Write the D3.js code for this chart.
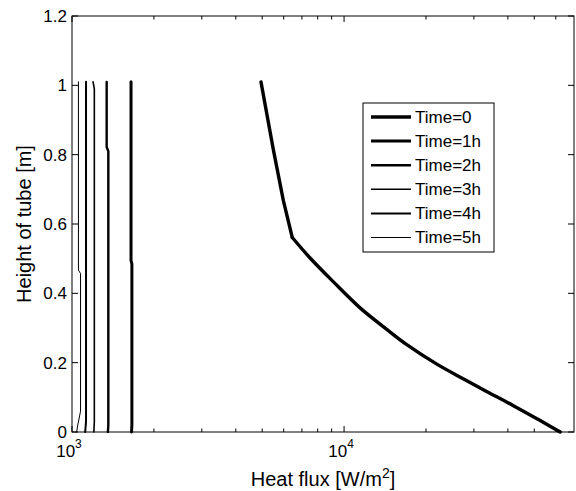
<!DOCTYPE html>
<html>
<head>
<meta charset="utf-8">
<script src="https://cdn.jsdelivr.net/npm/d3@7"></script>
<style>
  body { margin: 0; background: #fff; }
  text { font-family: Arial, "Liberation Sans", sans-serif; fill: #000; }
</style>
</head>
<body>
<svg id="drawing_region"></svg>
<script>
// heat flux profiles along the tube
var seriesNames = ['Time=0', 'Time=1h', 'Time=2h', 'Time=3h', 'Time=4h', 'Time=5h'];

var flux0   = [4950, 5500, 5980, 6450, 7500, 9140, 11450, 14350, 17000, 22000, 27500, 32500, 41900, 52600, 62300];
var height0 = [1.01, 0.813, 0.668, 0.561, 0.502, 0.433, 0.358, 0.296, 0.252, 0.195, 0.153, 0.122, 0.076, 0.033, 0];
var kink0 = 3; // index where the Time=0 profile bends sharply

var flux1   = [1648, 1648, 1660, 1660, 1655];
var height1 = [1.01, 0.495, 0.485, 0.02, 0];

var flux2   = [1341, 1341, 1360, 1360, 1355];
var height2 = [1.01, 0.822, 0.81, 0.02, 0];

var flux3   = [1195, 1208, 1208, 1203];
var height3 = [1.01, 0.99, 0.03, 0];

var flux4   = [1126, 1126, 1118];
var height4 = [1.01, 0.03, 0];

var flux5   = [1056, 1056, 1075, 1075, 1050, 1040];
var height5 = [1.01, 0.467, 0.457, 0.06, 0.02, 0];

var yTicks = [0, 0.2, 0.4, 0.6, 0.8, 1, 1.2];
var xMajor = [1000, 10000];
var xMinor = [2000, 3000, 4000, 5000, 6000, 7000, 8000, 9000, 20000, 30000, 40000, 50000, 60000];

var allFlux = [flux0, flux1, flux2, flux3, flux4, flux5];
var allHeight = [height0, height1, height2, height3, height4, height5];
var lineWidth = [3.4, 3, 2.4, 1.6, 2, 1];

var config = {
    parent: '#drawing_region',
    width: 576,
    height: 491,
    margin: {top: 16, right: 2, bottom: 59, left: 72}
};

var svg = d3.select(config.parent)
    .attr('width', config.width)
    .attr('height', config.height);

var inner_width = config.width - config.margin.left - config.margin.right;
var inner_height = config.height - config.margin.top - config.margin.bottom;

var chart = svg.append('g')
    .attr('transform', `translate(${config.margin.left}, ${config.margin.top})`);

var xscale = d3.scaleLog().domain([1000, 70000]).range([0, inner_width]);
var yscale = d3.scaleLinear().domain([0, 1.2]).range([inner_height, 0]);

// box
chart.append('rect')
    .attr('width', inner_width).attr('height', inner_height)
    .attr('fill', 'none').attr('stroke', '#000').attr('stroke-width', 1);

// ticks pointing inward, on all four sides (matlab style)
var tickG = chart.append('g').attr('stroke', '#000').attr('stroke-width', 1);
xMajor.forEach(v => {
    var x = xscale(v);
    tickG.append('line').attr('x1', x).attr('x2', x).attr('y1', inner_height).attr('y2', inner_height - 6);
    tickG.append('line').attr('x1', x).attr('x2', x).attr('y1', 0).attr('y2', 6);
});
xMinor.forEach(v => {
    var x = xscale(v);
    tickG.append('line').attr('x1', x).attr('x2', x).attr('y1', inner_height).attr('y2', inner_height - 3.5);
    tickG.append('line').attr('x1', x).attr('x2', x).attr('y1', 0).attr('y2', 3.5);
});
yTicks.forEach(v => {
    var y = yscale(v);
    tickG.append('line').attr('x1', 0).attr('x2', 6).attr('y1', y).attr('y2', y);
    tickG.append('line').attr('x1', inner_width).attr('x2', inner_width - 6).attr('y1', y).attr('y2', y);
});

// y tick labels
chart.selectAll('.ylab')
    .data(yTicks)
    .enter()
    .append('text')
    .attr('x', -5)
    .attr('y', d => yscale(d))
    .attr('dy', '0.35em')
    .attr('text-anchor', 'end')
    .style('font-size', '17px')
    .text(d => d3.format('~g')(d));

// x tick labels 10^n
xMajor.forEach(v => {
    var t = chart.append('text')
        .attr('x', xscale(v) - 3)
        .attr('y', inner_height + 25)
        .attr('text-anchor', 'middle')
        .style('font-size', '17px');
    t.append('tspan').text('10');
    t.append('tspan').attr('dy', -9).style('font-size', '12px').text(Math.round(Math.log10(v)));
});

// curves
var line = d3.line()
    .x(d => xscale(d[0]))
    .y(d => yscale(d[1]));
var smooth = d3.line()
    .x(d => xscale(d[0]))
    .y(d => yscale(d[1]))
    .curve(d3.curveCatmullRom);

allFlux.forEach((f, i) => {
    var pts = f.map((v, j) => [v, allHeight[i][j]]);
    var pieces = i === 0 ? [[pts.slice(0, kink0 + 1), line], [pts.slice(kink0), smooth]] : [[pts, line]];
    pieces.forEach(p => {
        chart.append('path')
            .datum(p[0])
            .attr('d', p[1])
            .attr('fill', 'none')
            .attr('stroke', '#000')
            .attr('stroke-width', lineWidth[i])
            .attr('stroke-linejoin', 'round')
            .attr('stroke-linecap', 'round');
    });
});

// legend
var legend = svg.append('g').attr('transform', 'translate(363, 103)');
legend.append('rect')
    .attr('width', 131).attr('height', 149)
    .attr('fill', '#fff').attr('stroke', '#000').attr('stroke-width', 1);
seriesNames.forEach((name, i) => {
    var y = 14 + i * 24.1;
    legend.append('line')
        .attr('x1', 8).attr('x2', 48).attr('y1', y).attr('y2', y)
        .attr('stroke', '#000').attr('stroke-width', lineWidth[i]);
    legend.append('text')
        .attr('x', 52).attr('y', y).attr('dy', '0.35em')
        .style('font-size', '17px')
        .text(name);
});

// axis labels
var xl = svg.append('text')
    .attr('x', config.margin.left + inner_width / 2)
    .attr('y', 486)
    .attr('text-anchor', 'middle')
    .style('font-size', '20px');
xl.append('tspan').text('Heat flux [W/m');
xl.append('tspan').attr('dy', -8).style('font-size', '14px').text('2');
xl.append('tspan').attr('dy', 8).text(']');

svg.append('text')
    .attr('transform', `translate(31, ${config.margin.top + inner_height / 2}) rotate(-90)`)
    .attr('text-anchor', 'middle')
    .style('font-size', '20px')
    .text('Height of tube [m]');
</script>
</body>
</html>
